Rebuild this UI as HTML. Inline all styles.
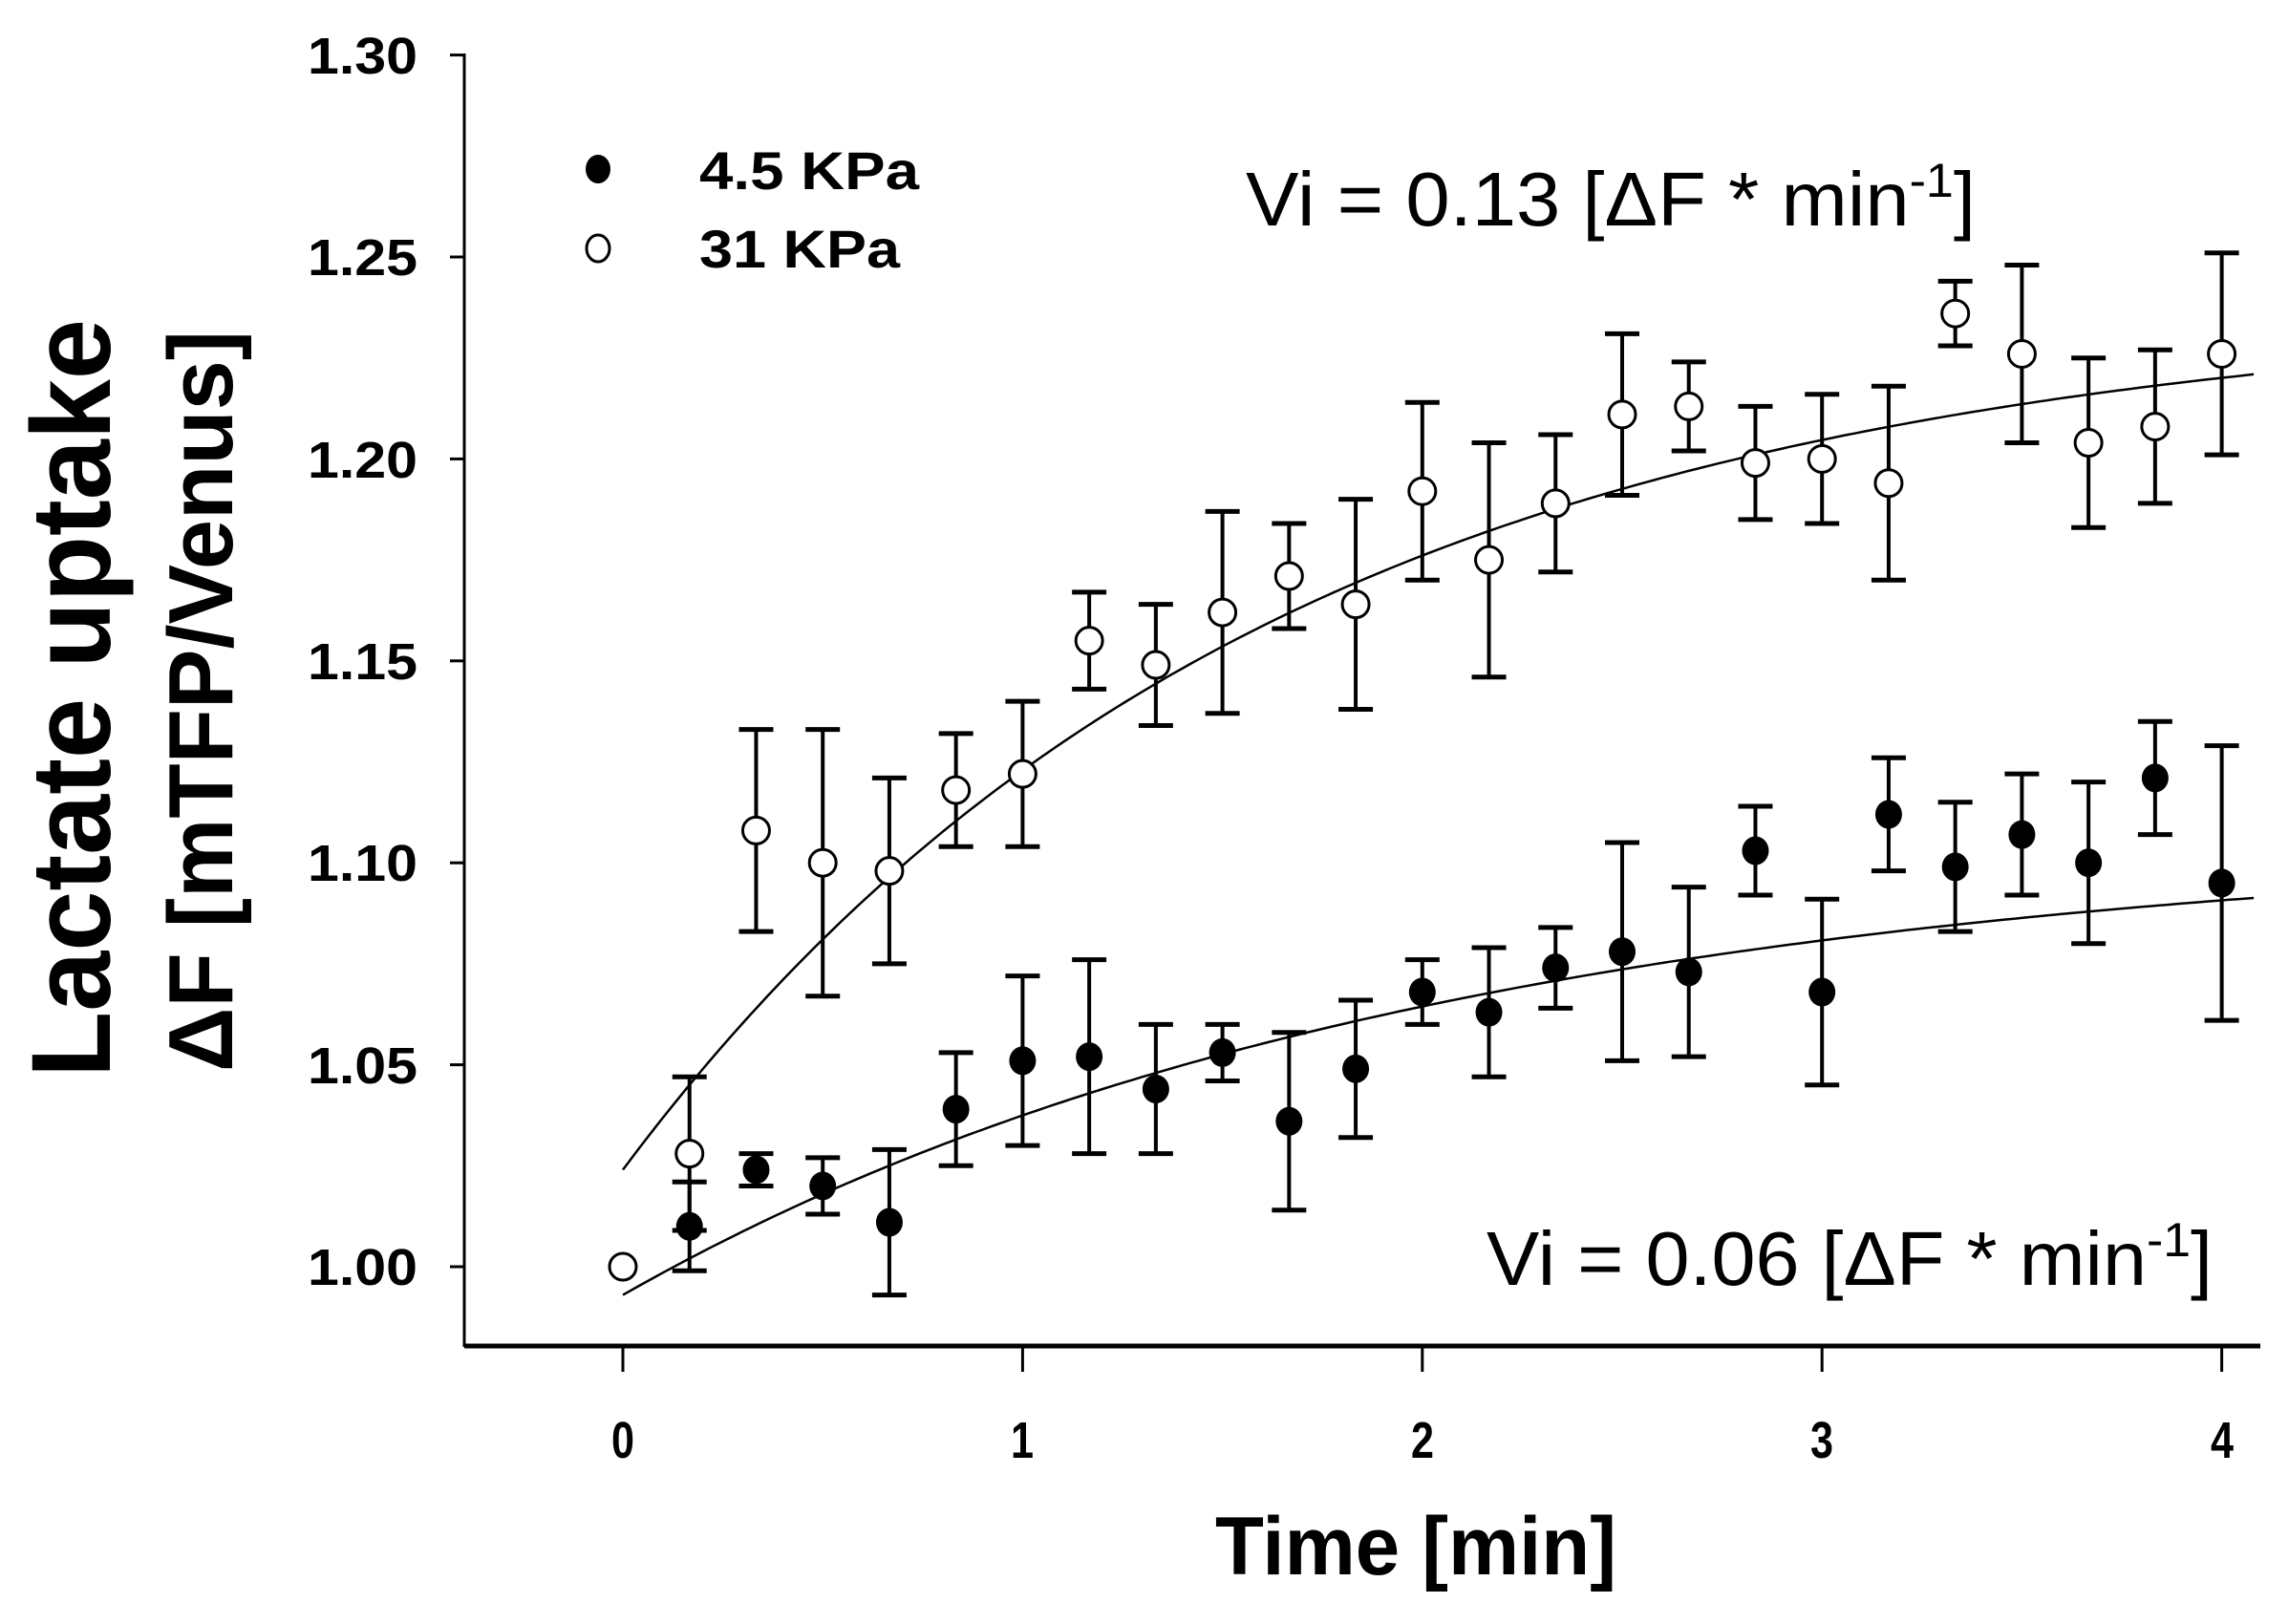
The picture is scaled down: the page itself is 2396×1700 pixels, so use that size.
<!DOCTYPE html>
<html><head><meta charset="utf-8"><style>
html,body{margin:0;padding:0;background:#fff;}
svg{display:block;}
text{font-family:"Liberation Sans",Arial,sans-serif;fill:#000;}
</style></head><body>
<svg id="s" width="2396" height="1700" viewBox="0 0 2396 1700" xmlns="http://www.w3.org/2000/svg">
<rect width="2396" height="1700" fill="#fff"/>
<g id="axes" stroke="#000" fill="none">
<line x1="486" y1="56" x2="486" y2="1410" stroke-width="3"/>
<line x1="486" y1="1409" x2="2366" y2="1409" stroke-width="5"/>
</g>
<g id="g"></g>
<g font-weight="bold" font-size="54" text-anchor="end">
<text x="437" y="77" textLength="115" lengthAdjust="spacingAndGlyphs">1.30</text>
<text x="437" y="288" textLength="115" lengthAdjust="spacingAndGlyphs">1.25</text>
<text x="437" y="500" textLength="115" lengthAdjust="spacingAndGlyphs">1.20</text>
<text x="437" y="711" textLength="115" lengthAdjust="spacingAndGlyphs">1.15</text>
<text x="437" y="922" textLength="115" lengthAdjust="spacingAndGlyphs">1.10</text>
<text x="437" y="1134" textLength="115" lengthAdjust="spacingAndGlyphs">1.05</text>
<text x="437" y="1345" textLength="115" lengthAdjust="spacingAndGlyphs">1.00</text>
</g>
<g font-weight="bold" font-size="54">
<text x="640" y="1526" textLength="24" lengthAdjust="spacingAndGlyphs">0</text>
<text x="1058" y="1526" textLength="24" lengthAdjust="spacingAndGlyphs">1</text>
<text x="1477" y="1526" textLength="24" lengthAdjust="spacingAndGlyphs">2</text>
<text x="1895" y="1526" textLength="24" lengthAdjust="spacingAndGlyphs">3</text>
<text x="2314" y="1526" textLength="24" lengthAdjust="spacingAndGlyphs">4</text>
</g>
<text x="1272" y="1648" font-weight="bold" font-size="86" textLength="420" lengthAdjust="spacingAndGlyphs">Time [min]</text>
<text transform="translate(115,1128) rotate(-90)" font-weight="bold" font-size="118" textLength="794" lengthAdjust="spacingAndGlyphs">Lactate uptake</text>
<text transform="translate(243,1122) rotate(-90)" font-weight="bold" font-size="96" textLength="776" lengthAdjust="spacingAndGlyphs">ΔF [mTFP/Venus]</text>
<ellipse cx="626" cy="177" rx="13" ry="15" fill="#000"/>
<ellipse cx="626" cy="260" rx="12" ry="14" fill="#fff" stroke="#000" stroke-width="3"/>
<text x="732" y="198" font-weight="bold" font-size="56" textLength="230" lengthAdjust="spacingAndGlyphs">4.5 KPa</text>
<text x="732" y="280" font-weight="bold" font-size="56" textLength="210" lengthAdjust="spacingAndGlyphs">31 KPa</text>
<text x="1304" y="236" font-size="80" textLength="764" lengthAdjust="spacingAndGlyphs">Vi = 0.13 [ΔF * min<tspan font-size="50" dy="-30">-1</tspan><tspan dy="30">]</tspan></text>
<text x="1556" y="1345" font-size="80" textLength="760" lengthAdjust="spacingAndGlyphs">Vi = 0.06 [ΔF * min<tspan font-size="50" dy="-30">-1</tspan><tspan dy="30">]</tspan></text>
</svg>
<script>
var NS="http://www.w3.org/2000/svg",g=document.getElementById('g');
function X(t){return 652+t*418.4;}
function Y(v){return 1326-(v-1)*4228;}
function el(n,a){var e=document.createElementNS(NS,n);for(var k in a)e.setAttribute(k,a[k]);g.appendChild(e);return e;}
for(var i=0;i<=6;i++){var y=1326-i*211.4;el('line',{x1:471,y1:y,x2:486,y2:y,stroke:'#000','stroke-width':3});}
for(var i=0;i<=4;i++){var x=X(i);el('line',{x1:x,y1:1409,x2:x,y2:1436,stroke:'#000','stroke-width':3});}
function curve(a,b,k){var d='';for(var t=0;t<=4.095;t+=0.02){d+=(d?'L':'M')+X(t).toFixed(1)+','+Y(a+b*(1-Math.exp(-k*t))).toFixed(1);}
el('path',{d:d,fill:'none',stroke:'#000','stroke-width':2.5});}
curve(1.024,0.214,0.62);
curve(0.993,0.113,0.5);
var open=[[0,1.000,0],[1,1.028,0.019],[2,1.108,0.025],[3,1.100,0.033],[4,1.098,0.023],[5,1.118,0.014],[6,1.122,0.018],[7,1.155,0.012],[8,1.149,0.015],[9,1.162,0.025],[10,1.171,0.013],[11,1.164,0.026],[12,1.192,0.022],[13,1.175,0.029],[14,1.189,0.017],[15,1.211,0.020],[16,1.213,0.011],[17,1.199,0.014],[18,1.200,0.016],[19,1.194,0.024],[20,1.236,0.008],[21,1.226,0.022],[22,1.204,0.021],[23,1.208,0.019],[24,1.226,0.025]];
var fill=[[1,1.010,0.011],[2,1.024,0.004],[3,1.020,0.007],[4,1.011,0.018],[5,1.039,0.014],[6,1.051,0.021],[7,1.052,0.024],[8,1.044,0.016],[9,1.053,0.007],[10,1.036,0.022],[11,1.049,0.017],[12,1.068,0.008],[13,1.063,0.016],[14,1.074,0.010],[15,1.078,0.027],[16,1.073,0.021],[17,1.103,0.011],[18,1.068,0.023],[19,1.112,0.014],[20,1.099,0.016],[21,1.107,0.015],[22,1.100,0.020],[23,1.121,0.014],[24,1.095,0.034]];
function pts(arr,filled){arr.forEach(function(p){var x=X(p[0]/6),y=Y(p[1]);
if(p[2]>0){var y1=Y(p[1]+p[2]),y2=Y(p[1]-p[2]);
el('line',{x1:x,y1:y1,x2:x,y2:y2,stroke:'#000','stroke-width':4});
el('line',{x1:x-18,y1:y1,x2:x+18,y2:y1,stroke:'#000','stroke-width':5});
el('line',{x1:x-18,y1:y2,x2:x+18,y2:y2,stroke:'#000','stroke-width':5});}
if(filled)el('ellipse',{cx:x,cy:y,rx:14,ry:15,fill:'#000'});
else el('ellipse',{cx:x,cy:y,rx:14,ry:14,fill:'#fff',stroke:'#000','stroke-width':3});});}
pts(fill,true);pts(open,false);
</script>
</body></html>
